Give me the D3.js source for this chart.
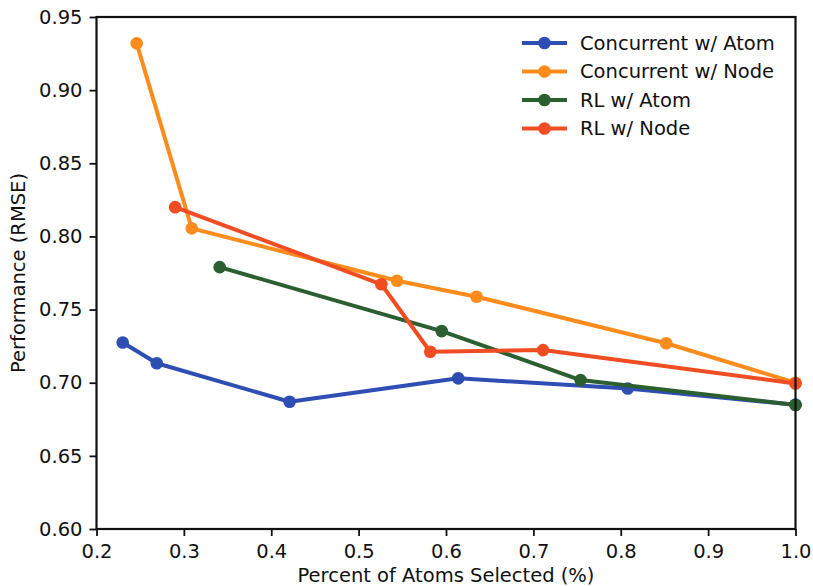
<!DOCTYPE html>
<html>
<head>
<meta charset="utf-8">
<script src="https://cdnjs.cloudflare.com/ajax/libs/d3/7.8.5/d3.min.js"></script>
<style>
    body { margin: 0; background: #fff; }
    text { font-family: 'DejaVu Sans', sans-serif; fill: #111; }
</style>
</head>
<body>
<div id="graph-container"></div>
<script>
// Data_____________________________________________________
const seriesNames = ['Concurrent w/ Atom', 'Concurrent w/ Node', 'RL w/ Atom', 'RL w/ Node'];
const seriesColors = ['#2e4eb4', '#fd8c1c', '#2b5f2f', '#f04d23'];

const concAtomX = [0.230, 0.269, 0.421, 0.614, 0.808, 1.0];
const concAtomY = [0.7275, 0.7133, 0.687, 0.703, 0.696, 0.685];
const concNodeX = [0.246, 0.309, 0.544, 0.635, 0.852, 1.0];
const concNodeY = [0.932, 0.8055, 0.7697, 0.7588, 0.727, 0.700];
const rlAtomX = [0.341, 0.595, 0.754, 1.0];
const rlAtomY = [0.779, 0.7353, 0.7018, 0.6848];
const rlNodeX = [0.290, 0.526, 0.582, 0.711, 1.0];
const rlNodeY = [0.820, 0.7673, 0.7212, 0.7223, 0.6995];

const xTicks = [0.2, 0.3, 0.4, 0.5, 0.6, 0.7, 0.8, 0.9, 1.0];
const yTicks = [0.60, 0.65, 0.70, 0.75, 0.80, 0.85, 0.90, 0.95];

// Variables________________________________________________
const width = 813;
const height = 586;
const margin = { top: 17, right: 17.5, bottom: 57, left: 96.5 };
const fontSize = '19.5px';

const series = [
    [concAtomX, concAtomY],
    [concNodeX, concNodeY],
    [rlAtomX, rlAtomY],
    [rlNodeX, rlNodeY]
].map((s, i) => ({
    name: seriesNames[i],
    color: seriesColors[i],
    points: s[0].map((x, j) => ({ x: x, y: s[1][j] }))
}));

const xScale = d3.scaleLinear().domain([0.2, 1.0]).range([margin.left, width - margin.right]);
const yScale = d3.scaleLinear().domain([0.60, 0.95]).range([height - margin.bottom, margin.top]);

// Graph Container__________________________________________
const svg = d3.select('#graph-container')
    .append('svg')
    .attr('width', width)
    .attr('height', height);

// Lines and markers________________________________________
const line = d3.line().x(d => xScale(d.x)).y(d => yScale(d.y));

const seriesGroup = svg.selectAll('.series')
    .data(series)
    .enter()
    .append('g')
    .attr('class', 'series');

seriesGroup.append('path')
    .attr('d', d => line(d.points))
    .attr('fill', 'none')
    .attr('stroke', d => d.color)
    .attr('stroke-width', 4)
    .attr('stroke-linejoin', 'round');

seriesGroup.selectAll('circle')
    .data(d => d.points.map(p => ({ ...p, color: d.color })))
    .enter()
    .append('circle')
    .attr('cx', d => xScale(d.x))
    .attr('cy', d => yScale(d.y))
    .attr('r', 6.3)
    .attr('fill', d => d.color);

// Axes_____________________________________________________
const xAxis = svg.append('g')
    .attr('transform', `translate(0, ${height - margin.bottom})`)
    .call(d3.axisBottom(xScale).tickValues(xTicks).tickFormat(d3.format('.1f')).tickSizeOuter(0).tickSize(7));

const yAxis = svg.append('g')
    .attr('transform', `translate(${margin.left}, 0)`)
    .call(d3.axisLeft(yScale).tickValues(yTicks).tickFormat(d3.format('.2f')).tickSizeOuter(0).tickSize(7));

[xAxis, yAxis].forEach(ax => {
    ax.select('.domain').remove();
    ax.selectAll('line').attr('stroke', '#111').attr('stroke-width', 1.8);
    ax.selectAll('text').style('font-size', fontSize).style('font-family', "'DejaVu Sans', sans-serif").attr('fill', '#111');
});
xAxis.selectAll('text').attr('dy', '0.95em');
yAxis.selectAll('text').attr('x', -14);

// Frame
svg.append('rect')
    .attr('x', margin.left)
    .attr('y', margin.top)
    .attr('width', width - margin.left - margin.right)
    .attr('height', height - margin.top - margin.bottom)
    .attr('fill', 'none')
    .attr('stroke', '#111')
    .attr('stroke-width', 2.2);

// Axis labels
svg.append('text')
    .attr('x', xScale(0.6))
    .attr('y', 582)
    .attr('text-anchor', 'middle')
    .style('font-size', fontSize)
    .text('Percent of Atoms Selected (%)');

svg.append('text')
    .attr('transform', `translate(25, ${yScale(0.775)}) rotate(-90)`)
    .attr('text-anchor', 'middle')
    .style('font-size', fontSize)
    .text('Performance (RMSE)');

// Legend___________________________________________________
const legendCell = svg.selectAll('.legend-item')
    .data(series)
    .enter()
    .append('g')
    .attr('class', 'legend-item')
    .attr('transform', (d, i) => `translate(522, ${43 + i * 28.5})`);

legendCell.append('line')
    .attr('x1', 0)
    .attr('x2', 45)
    .attr('stroke', d => d.color)
    .attr('stroke-width', 4);

legendCell.append('circle')
    .attr('cx', 22.5)
    .attr('r', 6.3)
    .attr('fill', d => d.color);

legendCell.append('text')
    .attr('x', 58)
    .attr('dy', '0.35em')
    .style('font-size', fontSize)
    .text(d => d.name);
</script>
</body>
</html>
